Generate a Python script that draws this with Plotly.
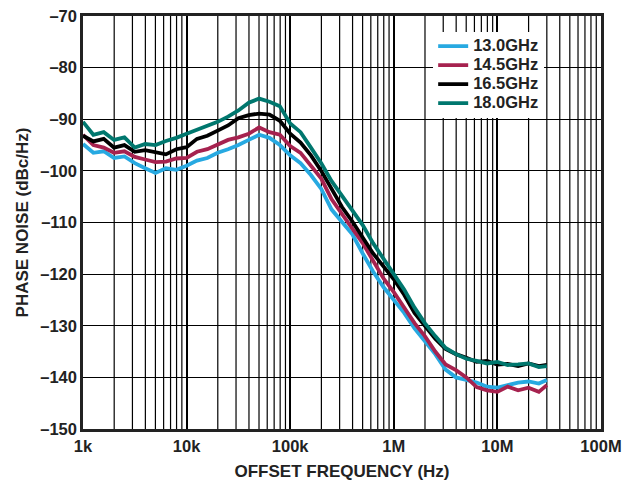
import plotly.graph_objects as go

# Offset frequency (Hz), ~10 points per decade, 1 kHz .. 30 MHz
freq_hz = [
    1000, 1259, 1585, 1995, 2512, 3162, 3981, 5012, 6310, 7943,
    10000, 12590, 15850, 19950, 25120, 31620, 39810, 50120, 63100, 79430,
    100000, 125900, 158500, 199500, 251200, 316200, 398100, 501200, 631000, 794300,
    1000000, 1259000, 1585000, 1995000, 2512000, 3162000, 3981000, 5012000, 6310000, 7943000,
    10000000, 12590000, 15850000, 19950000, 25120000, 30000000,
]

pn_13_0 = [
    -94.8, -96.5, -96.2, -97.5, -97.2, -98.5, -99.5, -100.4, -99.5, -99.8,
    -99.0, -98.0, -97.5, -96.5, -95.8, -95.0, -94.0, -93.0, -93.6, -95.0,
    -97.0, -98.5, -100.8, -103.5, -107.5, -109.8, -112.3, -116.0, -119.5, -122.5,
    -125.0, -127.5, -130.5, -133.0, -135.5, -138.5, -140.0, -140.5, -141.0, -141.8,
    -142.0, -141.5, -141.0, -140.8, -141.2, -140.5,
]
pn_14_5 = [
    -93.0, -95.0, -95.5, -96.5, -96.2, -97.3, -97.8, -98.3, -98.2, -97.6,
    -97.5, -96.3, -95.8, -95.0, -94.0, -93.5, -92.8, -91.6, -92.5, -93.0,
    -95.2, -96.5, -99.0, -101.5, -105.5, -108.5, -111.2, -114.0, -117.5, -120.8,
    -123.5, -126.5, -129.5, -132.0, -135.0, -137.5, -138.6, -140.0, -141.9, -142.5,
    -142.8, -141.8, -142.5, -142.0, -142.8, -141.5,
]
pn_16_5 = [
    -93.2, -94.3, -93.8, -95.5, -95.0, -96.3, -96.0, -96.4, -96.8, -95.8,
    -95.4, -93.8, -93.2, -92.2, -91.2, -89.8, -89.2, -88.9, -89.1, -90.3,
    -92.8, -94.5, -97.0, -100.0, -103.5, -107.0, -109.8, -112.8, -116.0, -118.5,
    -121.0, -124.0, -127.5, -130.0, -132.5, -134.5, -135.5, -136.2, -137.0, -136.8,
    -137.5, -137.4, -137.8, -137.3, -137.8, -137.6,
]
pn_18_0 = [
    -90.5, -93.0, -92.5, -94.0, -93.5, -95.5, -94.8, -95.0, -94.2, -93.6,
    -92.8, -92.0, -91.2, -90.5, -89.5, -88.3, -86.8, -86.0, -86.6, -87.5,
    -90.8, -92.5, -95.5, -98.5, -102.0, -104.8, -107.5, -110.5, -114.0, -117.0,
    -120.2, -123.0, -126.5, -129.5, -132.0, -134.3, -135.5, -136.4, -136.8, -137.3,
    -137.0, -137.6, -137.5, -137.3, -138.0, -137.8,
]

series_names = ["13.0GHz", "14.5GHz", "16.5GHz", "18.0GHz"]
series_values = [pn_13_0, pn_14_5, pn_16_5, pn_18_0]
series_colors = ["#27A9E1", "#A6224F", "#000000", "#00776E"]

x_tick_vals = [1e3, 1e4, 1e5, 1e6, 1e7, 1e8]
x_tick_text = ["1k", "10k", "100k", "1M", "10M", "100M"]
y_tick_vals = [-150, -140, -130, -120, -110, -100, -90, -80, -70]
y_tick_text = ["\u2013150", "\u2013140", "\u2013130", "\u2013120", "\u2013110",
               "\u2013100", "\u201390", "\u201380", "\u201370"]

FONT = "Liberation Sans, Arial, Helvetica, sans-serif"
TXT = "#222222"

fig = go.Figure()
for name, vals, col in zip(series_names, series_values, series_colors):
    fig.add_trace(go.Scatter(
        x=freq_hz, y=vals, mode="lines",
        name='<span style="font-size:16.5px">' + name + "</span>",
        line=dict(color=col, width=3.8)))

# minor vertical gridlines (2..9 x each decade)
shapes = []
for dec in [1e3, 1e4, 1e5, 1e6, 1e7]:
    for m in range(2, 10):
        shapes.append(dict(type="line", xref="x", yref="paper",
                           x0=dec * m, x1=dec * m, y0=0, y1=1,
                           line=dict(color="black", width=1.2), layer="below"))

fig.update_layout(
    width=636, height=481,
    margin=dict(l=83, r=35, t=16, b=52),
    paper_bgcolor="white", plot_bgcolor="white",
    font=dict(family=FONT, size=16, color=TXT, weight="bold"),
    shapes=shapes,
    showlegend=True,
    legend=dict(x=0.676, y=0.962, xanchor="left", yanchor="top",
                bgcolor="white", borderwidth=0,
                font=dict(family=FONT, size=12, color=TXT, weight="bold"),
                tracegroupgap=0, itemwidth=30),
    xaxis=dict(type="log", range=[3, 8], tickvals=x_tick_vals, ticktext=x_tick_text,
               automargin=False,
               showgrid=True, gridcolor="black", gridwidth=2.2,
               showline=True, linecolor=TXT, linewidth=2.5, mirror=True,
               ticks="", zeroline=False,
               tickfont=dict(family=FONT, size=16.5, color=TXT, weight="bold"),
               title=dict(text="OFFSET FREQUENCY (Hz)", standoff=14,
                          font=dict(family=FONT, size=17, color=TXT, weight="bold"))),
    yaxis=dict(range=[-150, -70], tickvals=y_tick_vals, ticktext=y_tick_text,
               automargin=False,
               showgrid=True, gridcolor="black", gridwidth=1.3,
               showline=True, linecolor=TXT, linewidth=2.5, mirror=True,
               ticks="", zeroline=False,
               tickfont=dict(family=FONT, size=16.5, color=TXT, weight="bold"),
               title=dict(text="PHASE NOISE (dBc/Hz)", standoff=8,
                          font=dict(family=FONT, size=17, color=TXT, weight="bold"))),
)

fig.write_html("out.html")
